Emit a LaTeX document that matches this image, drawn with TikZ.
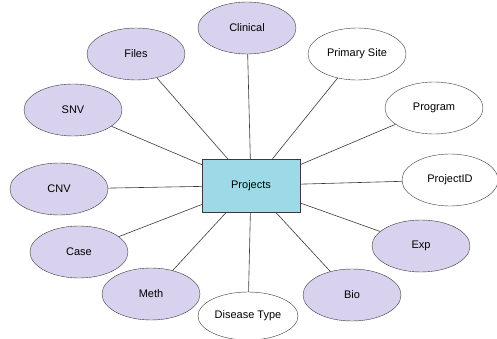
\documentclass[tikz,border=0pt]{standalone}
\usepackage{fontspec}
\setmainfont{Liberation Sans}
\usepackage{tikz}
\usetikzlibrary{shapes.geometric}
\definecolor{entityblue}{HTML}{9DDAE8}
\definecolor{pastellavender}{HTML}{D8D2EE}
\definecolor{edgegray}{HTML}{3A3A3A}

\begin{document}
\begin{tikzpicture}[
    x=1pt, y=-1pt,
    entity/.style={rectangle, draw=edgegray, fill=entityblue, minimum width=98pt, minimum height=53pt, inner sep=0pt, font=\fontsize{11}{13}\selectfont},
    attr/.style={ellipse, draw=edgegray, fill=white, minimum width=98pt, minimum height=52pt, inner sep=0pt, font=\fontsize{11}{13}\selectfont},
    linked/.style={attr, fill=pastellavender},
    link/.style={draw=edgegray, semithick},
]
\useasboundingbox (0,0) rectangle (497,339);

% Entity
\node[entity] (projects) at (251,185.5) {Projects};

% Linked tables
\node[linked] (clinical) at (247,28) {Clinical};
\node[linked] (files) at (136,54) {Files};
\node[linked] (snv) at (73,110) {SNV};
\node[linked] (cnv) at (59,189) {CNV};
\node[linked] (case) at (79,252) {Case};
\node[linked] (meth) at (151,294) {Meth};
\node[linked] (bio) at (352,295) {Bio};
\node[linked] (exp) at (421,246) {Exp};

% Attributes
\node[attr] (primarysite) at (357,54) {Primary Site};
\node[attr] (program) at (434,108) {Program};
\node[attr, minimum width=96pt] (projectid) at (450,180) {ProjectID};
\node[attr, minimum width=100pt, minimum height=48pt] (disease) at (248,316) {Disease Type};

% Connectors
\draw[link] (projects) -- (clinical);
\draw[link] (projects) -- (files);
\draw[link] (projects) -- (snv);
\draw[link] (projects) -- (cnv);
\draw[link] (projects) -- (case);
\draw[link] (projects) -- (meth);
\draw[link] (projects) -- (disease);
\draw[link] (projects) -- (bio);
\draw[link] (projects) -- (exp);
\draw[link] (projects) -- (projectid);
\draw[link] (projects) -- (program);
\draw[link] (projects) -- (primarysite);

\end{tikzpicture}
\end{document}
